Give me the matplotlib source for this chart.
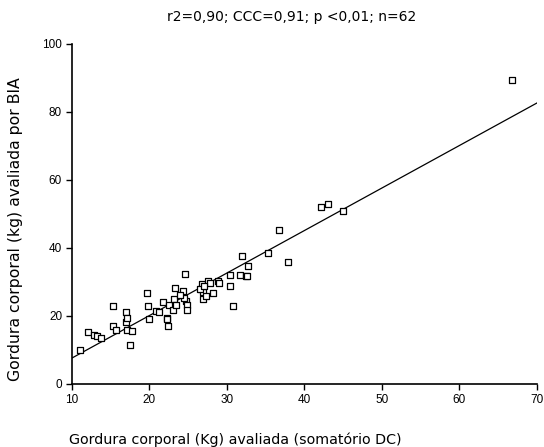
import matplotlib
matplotlib.use("Agg")
import matplotlib.pyplot as plt
import numpy as np

plt.rcParams['font.family'] = ['Liberation Sans', 'DejaVu Sans']

# Gordura corporal (Kg) - somatório DC
dc_kg = [11.07, 12.06, 12.84, 13.19, 13.83, 15.25, 15.25, 15.72, 16.97, 16.93,
         17.14, 17.14, 17.78, 17.57, 19.72, 19.81, 19.94, 20.84, 21.19, 21.70,
         22.22, 22.48, 22.30, 22.39, 23.07, 23.16, 23.33, 24.28, 24.58, 24.71,
         24.80, 24.88, 24.45, 26.61, 26.74, 26.86, 26.94, 27.29, 27.59, 27.81,
         28.15, 28.88, 30.39, 30.39, 30.81, 31.68, 31.94, 32.45, 32.62, 32.75,
         36.67, 35.33, 37.91, 42.09, 43.07, 45.01, 66.8, 24.0, 26.5, 23.5,
         27.1, 29.0]
# Gordura corporal (kg) - BIA
bia_kg = [10.0, 15.2, 14.4, 14.2, 13.6, 22.9, 17.1, 15.9, 21.2, 18.3,
          19.4, 15.9, 15.7, 11.5, 26.6, 22.9, 19.2, 21.4, 21.2, 24.0,
          19.4, 23.1, 19.2, 17.1, 21.8, 24.9, 28.3, 27.4, 32.3, 24.5,
          23.2, 21.8, 25.3, 27.9, 29.3, 27.0, 24.9, 25.9, 30.4, 29.8,
          26.6, 30.2, 28.7, 32.1, 22.9, 32.0, 37.6, 31.6, 31.6, 34.8,
          45.3, 38.4, 36.0, 52.0, 52.9, 50.8, 89.4, 26.2, 27.8, 23.2,
          28.8, 29.7]
# regression line (slope, intercept)
line_slope = 1.25
line_intercept = -4.9
x_range = [10, 70]

title = "r2=0,90; CCC=0,91; p <0,01; n=62"
xlabel = "Gordura corporal (Kg) avaliada (somatório DC)"
ylabel = "Gordura corporal (kg) avaliada por BIA"
xticks = [10, 20, 30, 40, 50, 60, 70]
yticks = [0, 20, 40, 60, 80, 100]

fig = plt.figure(figsize=(5.44, 4.47), dpi=100)
ax = fig.add_axes([0.132, 0.141, 0.855, 0.761])

ax.scatter(dc_kg, bia_kg, marker='s', s=22, facecolors='white',
           edgecolors='black', linewidths=0.9, zorder=3)
lx = np.array(x_range, dtype=float)
ax.plot(lx, line_slope * lx + line_intercept, color='black', lw=0.9, zorder=2)

ax.set_xlim(10, 70)
ax.set_ylim(0, 100)
ax.set_xticks(xticks)
ax.set_yticks(yticks)
for s in ['top', 'right']:
    ax.spines[s].set_visible(False)
for s in ['left', 'bottom']:
    ax.spines[s].set_linewidth(1.2)
ax.tick_params(direction='out', length=4, width=1, labelsize=8.5, pad=3)

lab_font = ['DejaVu Sans']
fig.text(0.536, 0.962, title, ha='center', va='center', fontsize=10,
         family=lab_font)
fig.text(0.432, 0.017, xlabel, ha='center', va='center', fontsize=10.3,
         family=lab_font)
fig.text(0.028, 0.488, ylabel, ha='center', va='center', rotation=90,
         fontsize=11.3, family=lab_font)

fig.savefig("out.png", dpi=100)
